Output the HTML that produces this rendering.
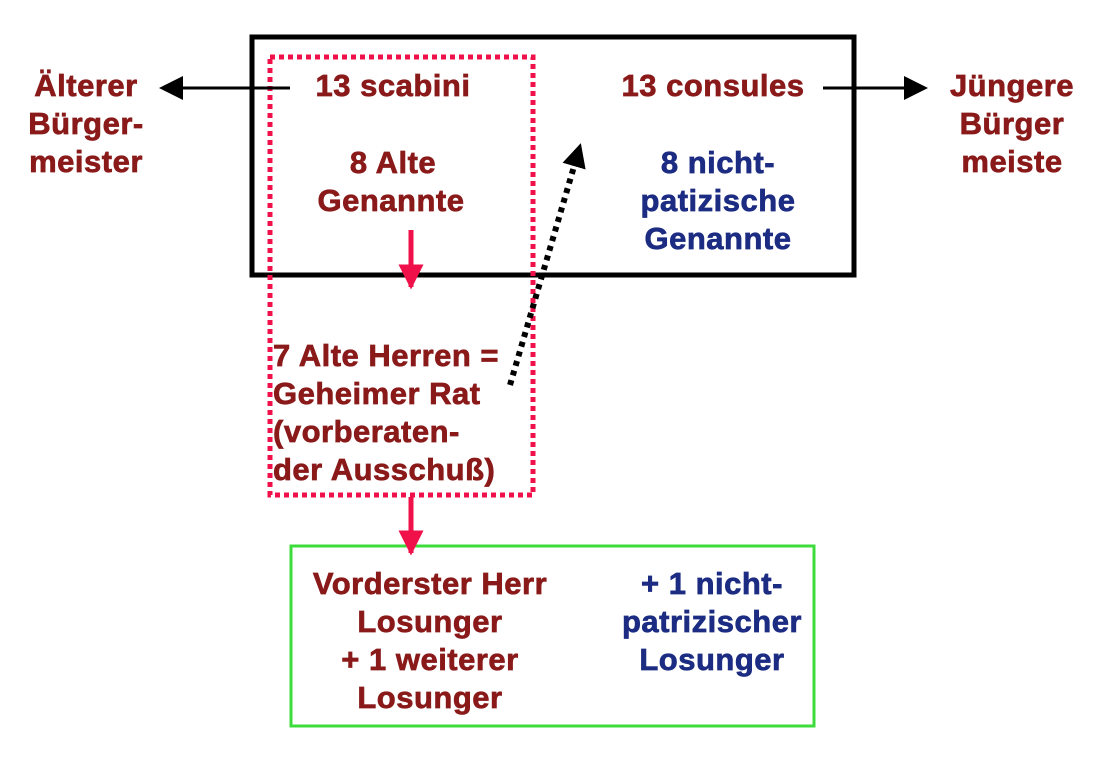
<!DOCTYPE html>
<html><head><meta charset="utf-8"><style>
html,body{margin:0;padding:0;background:#fff;}
svg{display:block;}
text{font-family:"Liberation Sans",sans-serif;font-weight:bold;font-size:31px;letter-spacing:0.5px;stroke-width:0.7px;}
.r{fill:#8a1a1a;stroke:#8a1a1a;} .b{fill:#1c2c82;stroke:#1c2c82;}
</style></head><body>
<svg width="1108" height="759" viewBox="0 0 1108 759">
<defs>
<marker id="ak" markerWidth="8" markerHeight="8" refX="7" refY="4" orient="auto" markerUnits="strokeWidth"><path d="M0,0 L8,4 L0,8 Z" fill="#000"/></marker>
<marker id="ap" markerWidth="5" markerHeight="5" refX="4.5" refY="2.5" orient="auto" markerUnits="strokeWidth"><path d="M0,0 L5,2.5 L0,5 Z" fill="#f0104a"/></marker>
<marker id="ad" markerWidth="4" markerHeight="4" refX="3.5" refY="2" orient="auto" markerUnits="strokeWidth"><path d="M0,0 L4,2 L0,4 Z" fill="#000"/></marker>
</defs>
<rect x="252" y="37" width="602" height="238" fill="none" stroke="#000" stroke-width="5"/>
<rect x="270" y="57" width="263" height="438" fill="none" stroke="#f0104a" stroke-width="5" stroke-dasharray="5,4"/>
<rect x="291" y="546" width="523" height="180" fill="none" stroke="#3ddc3d" stroke-width="3"/>
<line x1="290" y1="88" x2="162" y2="88" stroke="#000" stroke-width="3" marker-end="url(#ak)"/>
<line x1="823" y1="88" x2="925" y2="88" stroke="#000" stroke-width="3" marker-end="url(#ak)"/>
<line x1="411" y1="230" x2="411" y2="287" stroke="#f0104a" stroke-width="5" marker-end="url(#ap)"/>
<line x1="411" y1="497" x2="411" y2="553" stroke="#f0104a" stroke-width="5" marker-end="url(#ap)"/>
<line x1="510" y1="385" x2="580" y2="146" stroke="#000" stroke-width="6" stroke-dasharray="5,5" marker-end="url(#ad)"/>
<g class="r" text-anchor="middle">
<text x="86" y="96">Älterer</text><text x="86" y="134">Bürger-</text><text x="86" y="172">meister</text>
<text x="1012" y="96">Jüngere</text><text x="1012" y="134">Bürger</text><text x="1012" y="172">meiste</text>
<text x="393" y="96">13 scabini</text>
<text x="713" y="96">13 consules</text>
<text x="393" y="173">8 Alte</text><text x="391" y="211">Genannte</text>
<text x="430" y="594">Vorderster Herr</text><text x="430" y="632">Losunger</text><text x="430" y="670">+ 1 weiterer</text><text x="430" y="708">Losunger</text>
</g>
<g class="r">
<text x="273" y="366">7 Alte Herren =</text><text x="273" y="404">Geheimer Rat</text><text x="273" y="442">(vorberaten-</text><text x="273" y="480">der Ausschuß)</text>
</g>
<g class="b" text-anchor="middle">
<text x="718" y="173">8 nicht-</text><text x="718" y="211">patizische</text><text x="718" y="249">Genannte</text>
<text x="712" y="594">+ 1 nicht-</text><text x="712" y="632">patrizischer</text><text x="712" y="670">Losunger</text>
</g>
</svg>
</body></html>
